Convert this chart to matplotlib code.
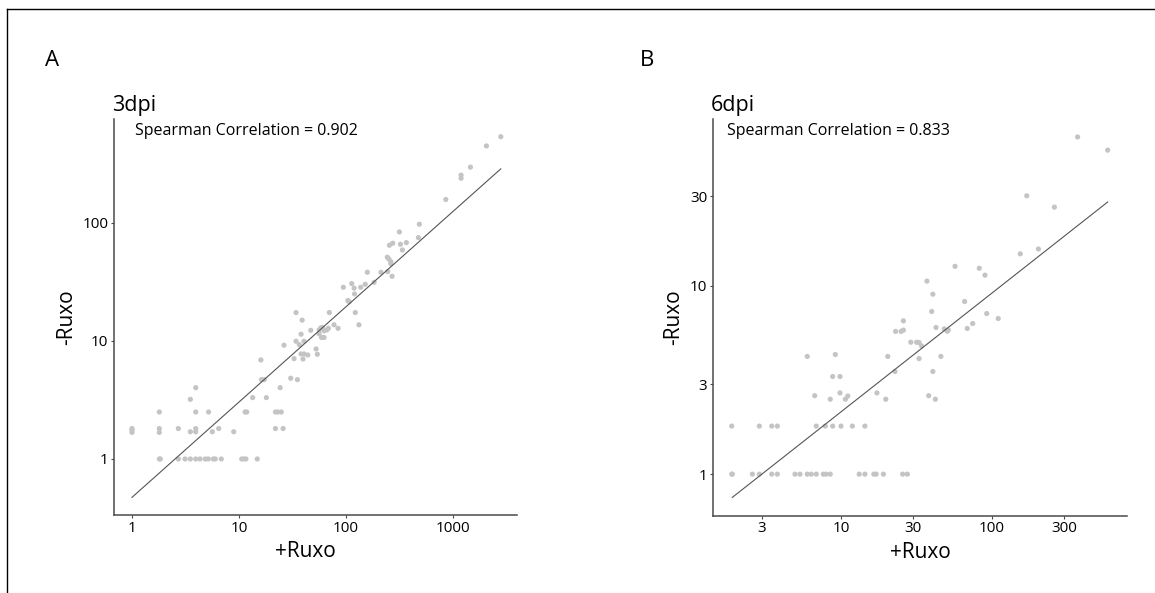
import matplotlib
matplotlib.use("Agg")
import matplotlib.pyplot as plt
from matplotlib.lines import Line2D
from matplotlib.ticker import FixedLocator, NullLocator

plt.rcParams["font.family"] = ["Open Sans", "DejaVu Sans"]

# ---- panel A (3dpi) -------------------------------------------------------
a_x = [1.80, 1.84, 2.71, 3.13, 3.51, 3.94, 4.32, 4.84, 5.16, 5.75, 6.0, 6.83, 10.6, 11.1, 11.6, 14.8,
       1.0, 1.0, 1.0, 1.8, 1.8, 2.71, 3.51, 3.94, 3.94, 5.63, 6.46, 8.92, 21.9, 25.8,
       1.8, 3.94, 5.2, 11.4, 11.8, 21.9, 23.0, 24.8,
       3.51, 3.94, 13.4, 18.0, 24.2, 16.2, 17.2, 16.0, 30.4, 35.1, 26.3, 32.7, 34.1, 36.6, 40.5,
       38.0, 40.5, 43.9, 39.6, 38.0, 38.9, 34.1, 46.8, 52.5, 53.9, 56.0, 58.0, 60.0, 62.3, 56.0,
       59.0, 62.3, 66.0, 68.4, 69.8, 77.2, 84.2, 104, 107, 94.4, 113, 119, 120, 122, 132, 137,
       151, 158, 183, 212, 243, 251, 262, 262, 245, 269, 254, 273, 315, 322, 336, 366, 474, 484,
       855, 1188, 1188, 1452, 2048, 2792]
a_y = [1.0] * 16 + \
      [1.81, 1.75, 1.68, 1.81, 1.68, 1.81, 1.70, 1.81, 1.70, 1.70, 1.81, 1.70, 1.81, 1.81,
       2.5, 2.5, 2.5, 2.5, 2.5, 2.5, 2.5, 2.5,
       3.2, 4.02, 3.31, 3.31, 4.02, 4.70, 4.70, 6.9, 4.83, 4.70, 9.2, 7.08, 9.94, 9.3, 9.94,
       7.76, 7.76, 7.6, 7.03, 11.4, 15.0, 17.4, 12.3, 8.55, 7.71, 12.4, 12.9, 13.0, 12.2, 11.5,
       10.7, 10.7, 12.4, 12.8, 17.4, 13.7, 12.8, 22.0, 21.5, 28.5, 30.6, 28.0, 25.0, 17.4, 13.7, 28.5,
       30.2, 38.2, 31.4, 38.2, 51.2, 49.5, 47.0, 45.0, 38.7, 35.3, 64.7, 67.3, 83.9, 65.9, 59.0, 68.1,
       75.1, 97.5, 158, 239, 254, 297, 449, 538]
a_fit_x = [1.0, 2790]
a_fit_y = [0.473, 287]
a_xticks = [1, 10, 100, 1000]
a_yticks = [1, 10, 100]
a_title = "3dpi"
a_rho = 0.902

# ---- panel B (6dpi) -------------------------------------------------------
b_x = [1.89, 1.91, 2.59, 2.88, 3.48, 3.79, 4.96, 5.35, 5.98, 6.36, 6.86, 7.64, 7.96, 8.49,
       13.2, 14.4, 16.5, 17.1, 19.1, 25.6, 27.5,
       1.89, 2.88, 3.48, 3.79, 6.86, 7.87, 8.81, 10.0, 11.9, 14.4,
       6.70, 8.49, 8.81, 9.85, 9.85, 10.7, 11.1, 5.98, 9.17, 17.3, 19.8, 20.4, 22.8, 23.0, 25.0,
       25.9, 25.9, 29.0, 31.7, 32.9, 34.2, 32.9, 37.1, 40.6, 39.9, 42.6, 40.6, 38.1, 42.2, 45.9,
       48.3, 50.6, 51.4, 56.9, 65.9, 68.6, 74.5, 82.4, 89.9, 92.3, 110, 154, 170, 203, 259, 369, 584]
b_y = [1.0] * 21 + [1.8] * 10 + \
      [2.61, 2.50, 3.30, 3.30, 2.70, 2.50, 2.60, 4.22, 4.32, 2.70, 2.50, 4.22, 3.51, 5.73, 5.73,
       5.82, 6.52, 5.02, 5.02, 5.0, 4.8, 4.11, 10.6, 9.03, 7.31, 6.01, 3.51, 2.61, 2.50, 4.22,
       5.91, 5.74, 5.82, 12.7, 8.26, 5.94, 6.31, 12.4, 11.4, 7.13, 6.71, 14.8, 30.1, 15.7, 26.2, 61.8, 52.6]
b_fit_x = [1.905, 584]
b_fit_y = [0.752, 27.9]
b_xticks = [3, 10, 30, 100, 300]
b_yticks = [1, 3, 10, 30]
b_title = "6dpi"
b_rho = 0.833

POINT_COLOR = "#c4c4c4"
LINE_COLOR = "#555555"
SPINE_COLOR = "#4a4a4a"


def draw_panel(ax, xs, ys, fit_x, fit_y, xticks, yticks, xlim, ylim, title, rho, xlabel_x=0.5):
    ax.scatter(xs, ys, s=14, color=POINT_COLOR, edgecolors="none", zorder=2)
    ax.plot(fit_x, fit_y, color=LINE_COLOR, lw=0.8, zorder=3)
    ax.set_xscale("log")
    ax.set_yscale("log")
    ax.set_xlim(*xlim)
    ax.set_ylim(*ylim)
    ax.xaxis.set_major_locator(FixedLocator(xticks))
    ax.yaxis.set_major_locator(FixedLocator(yticks))
    ax.xaxis.set_minor_locator(NullLocator())
    ax.yaxis.set_minor_locator(NullLocator())
    ax.set_xticklabels([str(t) for t in xticks])
    ax.set_yticklabels([str(t) for t in yticks])
    ax.tick_params(length=2.5, width=0.8, color=SPINE_COLOR, pad=1.5, labelsize=11)
    for side in ("top", "right"):
        ax.spines[side].set_visible(False)
    for side in ("left", "bottom"):
        ax.spines[side].set_color(SPINE_COLOR)
        ax.spines[side].set_linewidth(1.1)
    ax.set_xlabel("+Ruxo", fontsize=15, labelpad=3)
    ax.set_ylabel("-Ruxo", fontsize=15, labelpad=4)
    ax.xaxis.set_label_coords(xlabel_x, -0.065)
    ax.set_title(title, loc="left", fontsize=15.5, pad=6, x=-0.005)
    ax.text(0.052, 0.96, f"Spearman Correlation = {rho}", transform=ax.transAxes,
            fontsize=11.5, va="baseline", ha="left")


fig = plt.figure(figsize=(11.55, 5.93), dpi=100)
ax_a = fig.add_axes([0.0987, 0.1315, 0.349, 0.668])
ax_b = fig.add_axes([0.6173, 0.130, 0.3584, 0.669])

draw_panel(ax_a, a_x, a_y, a_fit_x, a_fit_y, a_xticks, a_yticks,
           (0.679, 3963), (0.335, 761), a_title, a_rho, xlabel_x=0.476)
draw_panel(ax_b, b_x, b_y, b_fit_x, b_fit_y, b_xticks, b_yticks,
           (1.42, 783), (0.600, 76.8), b_title, b_rho)
ax_b.texts[0].set_x(0.035)

fig.text(45 / 1155, 1 - 65.7 / 593, "A", fontsize=16, va="baseline", ha="left")
fig.text(640 / 1155, 1 - 65.7 / 593, "B", fontsize=16, va="baseline", ha="left")

# frame lines (top and left) around the figure panel
fig.add_artist(Line2D([7 / 1155, 1.0], [1 - 9 / 593, 1 - 9 / 593], color="black", lw=1.0,
                      transform=fig.transFigure))
fig.add_artist(Line2D([7 / 1155, 7 / 1155], [0.0, 1 - 9 / 593], color="black", lw=1.0,
                      transform=fig.transFigure))

fig.savefig("out.png", dpi=100)
